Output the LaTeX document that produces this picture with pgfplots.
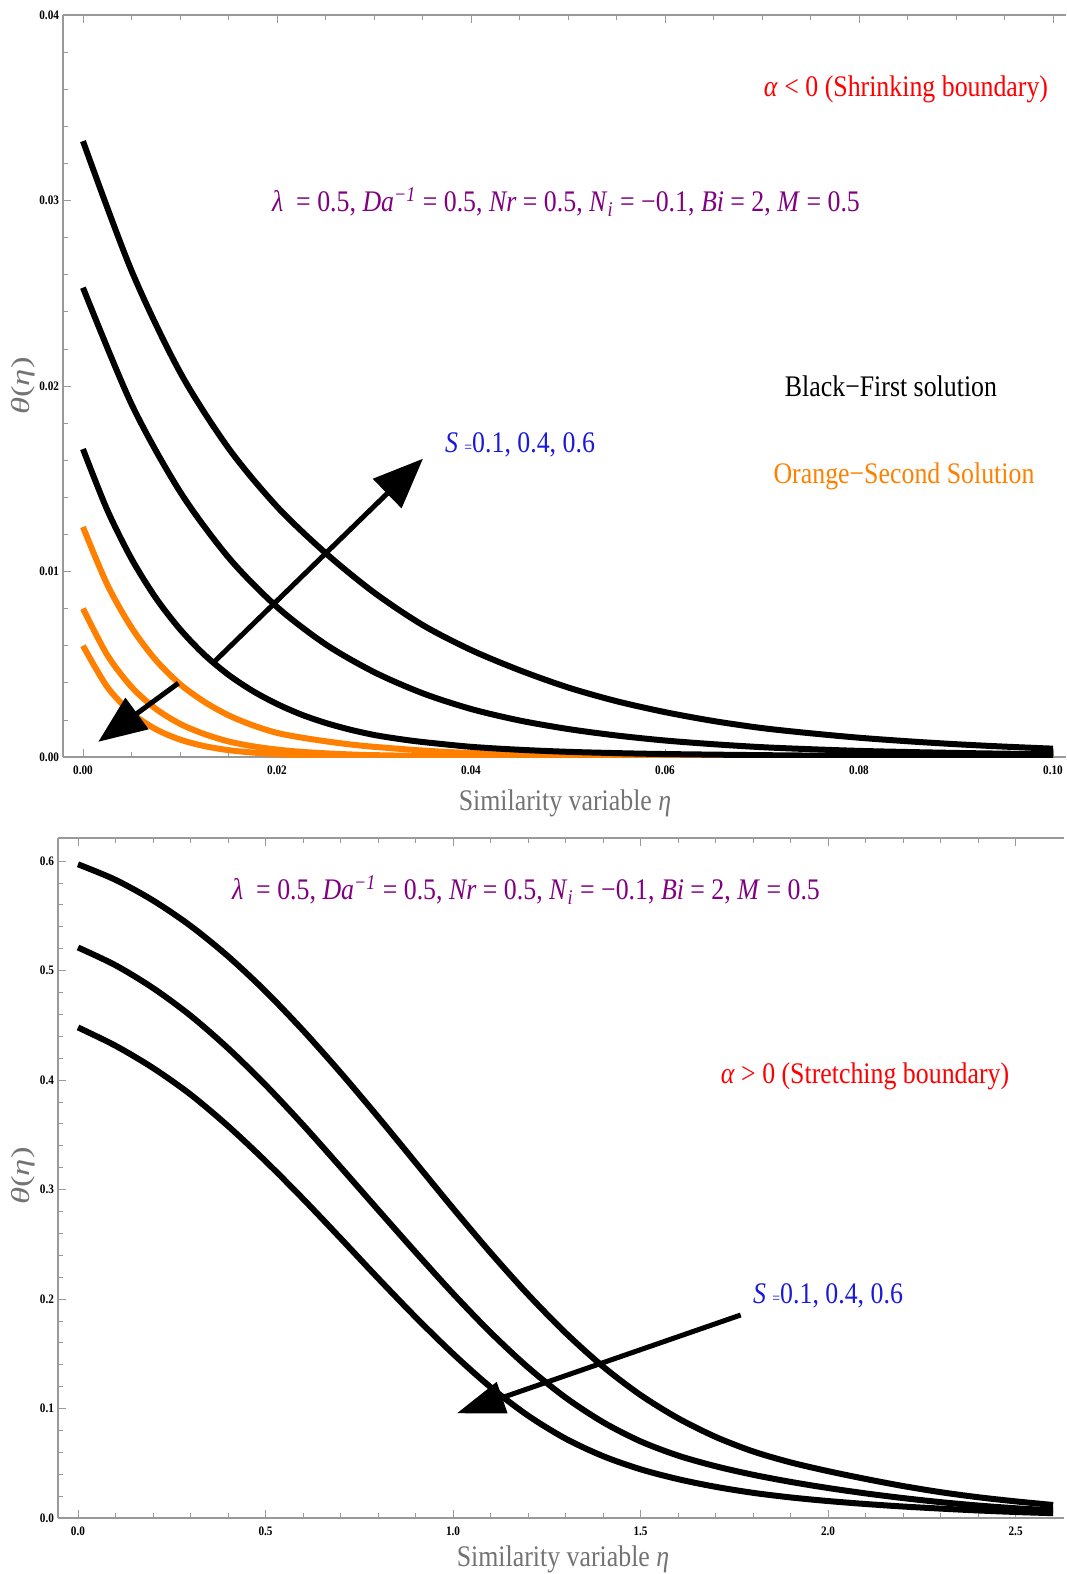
\documentclass[border=0pt]{standalone}
\usepackage{fontspec}
\setmainfont{Liberation Serif}[FakeStretch=0.865]
\usepackage{graphicx}
\usepackage{pgfplots}
\pgfplotsset{compat=1.18}
\usepackage{pgfplotstable}
\usetikzlibrary{arrows.meta}
\definecolor{mOrange}{rgb}{1,0.5,0}
\definecolor{mPurple}{rgb}{0.5,0,0.5}
\definecolor{mBlue}{rgb}{0.1,0.1,0.85}
\definecolor{mGray}{rgb}{0.45,0.45,0.45}
\definecolor{axGray}{rgb}{0.6,0.6,0.6}
\newcommand{\ann}{\fontsize{15}{18}\selectfont}
\newcommand{\ylab}{\scalebox{1.55}[1]{\fontsize{13}{15}\selectfont\textit{θ}(\textit{η})}}

\pgfplotstableread{
x y
0 0.0332
0.005 0.02622
0.01 0.02075
0.015 0.01665
0.02 0.0135
0.025 0.0110
0.03 0.00887
0.035 0.00712
0.04 0.00577
0.045 0.00468
0.05 0.00375
0.055 0.00301
0.06 0.00242
0.065 0.00194
0.07 0.00156
0.075 0.00128
0.08 0.00104
0.085 0.00085
0.09 0.00069
0.095 0.00056
0.1 0.00045
}\blackA
\pgfplotstableread{
x y
0 0.0253
0.005 0.01903
0.01 0.01431
0.015 0.01076
0.02 0.00809
0.025 0.00608
0.03 0.00458
0.035 0.00344
0.04 0.00259
0.045 0.00197
0.05 0.00151
0.055 0.00116
0.06 0.00089
0.065 0.00069
0.07 0.00053
0.075 0.00042
0.08 0.00033
0.085 0.00027
0.09 0.00022
0.095 0.00018
0.1 0.00015
}\blackB
\pgfplotstableread{
x y
0 0.0166
0.0025 0.01332
0.005 0.01069
0.0075 0.00858
0.01 0.00689
0.0125 0.00552
0.015 0.00443
0.0175 0.00356
0.02 0.00286
0.0225 0.00229
0.025 0.00184
0.0275 0.00148
0.03 0.00119
0.0325 0.00098
0.035 0.00081
0.04 0.00055
0.045 0.00039
0.05 0.00028
0.055 0.00021
0.06 0.00016
0.07 0.00010
0.08 0.00006
0.09 0.00004
0.1 0.00003
}\blackC
\pgfplotstableread{
x y
0 0.0124
0.0025 0.0093
0.005 0.00698
0.0075 0.00523
0.01 0.00393
0.0125 0.00298
0.015 0.00225
0.0175 0.00171
0.02 0.00130
0.0225 0.00105
0.025 0.00085
0.0275 0.00068
0.03 0.00055
0.035 0.00035
0.04 0.00022
0.05 0.00010
0.06 0.00005
0.08 0.00002
0.1 0.00001
}\orangeA
\pgfplotstableread{
x y
0 0.0080
0.0025 0.0055
0.005 0.00378
0.0075 0.0026
0.01 0.00179
0.0125 0.00124
0.015 0.00084
0.0175 0.00058
0.02 0.00040
0.0225 0.00028
0.025 0.00020
0.0275 0.00014
0.03 0.00010
0.04 0.00003
0.06 0.00001
0.1 0.00000
}\orangeB
\pgfplotstableread{
x y
0 0.0060
0.0025 0.00378
0.005 0.00238
0.0075 0.00150
0.01 0.00094
0.0125 0.00059
0.015 0.00037
0.0175 0.00024
0.02 0.00015
0.0225 0.00010
0.025 0.00006
0.0275 0.00004
0.03 0.00002
0.05 0.00000
0.1 0.00000
}\orangeC
\pgfplotstableread{
x y
0 0.597
0.1 0.5828
0.2 0.564
0.3 0.5408
0.4 0.513
0.5 0.481
0.6 0.4453
0.7 0.4068
0.8 0.3663
0.9 0.3246
1.0 0.2828
1.1 0.2423
1.2 0.2041
1.3 0.1691
1.4 0.1383
1.5 0.1123
1.6 0.0911
1.7 0.0741
1.8 0.0608
1.9 0.0508
2.0 0.0428
2.1 0.0357
2.2 0.0292
2.3 0.0236
2.4 0.0190
2.5 0.0152
2.6 0.0119
}\curveA
\pgfplotstableread{
x y
0 0.521
0.1 0.5048
0.2 0.484
0.3 0.4588
0.4 0.429
0.5 0.3955
0.6 0.359
0.7 0.3205
0.8 0.2815
0.9 0.2428
1.0 0.205
1.1 0.1695
1.2 0.1375
1.3 0.110
1.4 0.0875
1.5 0.070
1.6 0.057
1.7 0.0473
1.8 0.0395
1.9 0.033
2.0 0.0274
2.1 0.0225
2.2 0.0182
2.3 0.0145
2.4 0.0114
2.5 0.0089
2.6 0.0070
}\curveB
\pgfplotstableread{
x y
0 0.448
0.1 0.4313
0.2 0.411
0.3 0.3868
0.4 0.358
0.5 0.3259
0.6 0.2915
0.7 0.2555
0.8 0.219
0.9 0.1835
1.0 0.150
1.1 0.1195
1.2 0.0935
1.3 0.0725
1.4 0.0565
1.5 0.0445
1.6 0.0355
1.7 0.0285
1.8 0.0230
1.9 0.0188
2.0 0.0155
2.1 0.0128
2.2 0.0105
2.3 0.0086
2.4 0.0069
2.5 0.0055
2.6 0.0044
}\curveC

\pgfplotsset{mystyle/.style={
  scale only axis,
  axis y line*=left,
  axis line style={axGray, line width=0.6bp},
  every tick/.style={axGray, line width=0.4bp},
  major tick length=4bp,
  minor tick length=2.5bp,
  tick label style={font=\bfseries\fontsize{6.5}{7}\selectfont},
  yticklabel style={xshift=1.5bp},
  xticklabel style={yshift=-1bp},
  /pgf/number format/assume math mode=true,
  every axis plot/.append style={line width=3bp, smooth},
}}

\begin{document}
\begin{tikzpicture}
\path[use as bounding box] (0,0) rectangle (533.5bp,-787bp);

\begin{axis}[mystyle,
  at={(31.5bp,-378.5bp)}, anchor=south west,
  width=501.5bp, height=371bp,
  xmin=-0.00206, xmax=0.10134, ymin=0, ymax=0.04,
  xtick={0,0.02,0.04,0.06,0.08,0.1}, minor x tick num=3,
  ytick={0,0.01,0.02,0.03,0.04}, minor y tick num=4,
  xticklabel style={/pgf/number format/.cd, fixed, fixed zerofill, precision=2},
  yticklabel style={/pgf/number format/.cd, fixed, fixed zerofill, precision=2},
  scaled ticks=false]
\addplot[mOrange] table {\orangeA};
\addplot[mOrange] table {\orangeB};
\addplot[mOrange] table {\orangeC};
\addplot[black] table {\blackA};
\addplot[black] table {\blackB};
\addplot[black] table {\blackC};
\draw[black, line width=2.5bp, -{Triangle[length=25bp, width=20bp]}] (axis cs:0.01327,0.0050) -- (axis cs:0.03505,0.01608);
\draw[black, line width=2.5bp, -{Triangle[length=24bp, width=19bp]}] (axis cs:0.00983,0.00398) -- (axis cs:0.00158,0.00082);
\end{axis}

\begin{axis}[mystyle,
  at={(29bp,-759bp)}, anchor=south west,
  width=503bp, height=340bp,
  xmin=-0.0533, xmax=2.629, ymin=0, ymax=0.621,
  xtick={0,0.5,1,1.5,2,2.5}, minor x tick num=4,
  ytick={0,0.1,0.2,0.3,0.4,0.5,0.6}, minor y tick num=4,
  xticklabel style={/pgf/number format/.cd, fixed, fixed zerofill, precision=1},
  yticklabel style={/pgf/number format/.cd, fixed, fixed zerofill, precision=1}]
\addplot[black] table {\curveA};
\addplot[black] table {\curveB};
\addplot[black] table {\curveC};
\draw[black, line width=2.5bp, -{Triangle[length=24bp, width=16bp]}] (axis cs:1.767,0.1854) -- (axis cs:1.010,0.0956);
\end{axis}

% axis labels
\node[mGray, rotate=90] at (11.5bp,-193bp) {\ylab};
\node[mGray, rotate=90] at (11.5bp,-588bp) {\ylab};
\node[mGray] at (282.5bp,-401.5bp) {\ann Similarity variable \textit{η}};
\node[mGray] at (281.5bp,-779.5bp) {\ann Similarity variable \textit{η}};

% annotations top
\node[red] at (453bp,-44.5bp) {\ann\textit{α} \textless{} 0 (Shrinking boundary)};
\node[mPurple] at (283bp,-101bp) {\ann\textit{λ} \ = 0.5, \textit{Da}\textsuperscript{\textit{−1}} = 0.5, \textit{Nr} = 0.5, \textit{N}\textsubscript{\textit{i}} = −0.1, \textit{Bi} = 2, \textit{M} = 0.5};
\node[black] at (445.5bp,-193bp) {\ann Black−First solution};
\node[mOrange] at (452bp,-238bp) {\ann Orange−Second Solution};
\node[mBlue] at (260bp,-222.5bp) {\ann\textit{S} {\fontsize{8}{8}\selectfont=}0.1, 0.4, 0.6};

% annotations bottom
\node[mPurple] at (263bp,-445bp) {\ann\textit{λ} \ = 0.5, \textit{Da}\textsuperscript{\textit{−1}} = 0.5, \textit{Nr} = 0.5, \textit{N}\textsubscript{\textit{i}} = −0.1, \textit{Bi} = 2, \textit{M} = 0.5};
\node[red] at (432.5bp,-538bp) {\ann\textit{α} \textgreater{} 0 (Stretching boundary)};
\node[mBlue] at (414bp,-648bp) {\ann\textit{S} {\fontsize{8}{8}\selectfont=}0.1, 0.4, 0.6};
\end{tikzpicture}
\end{document}
